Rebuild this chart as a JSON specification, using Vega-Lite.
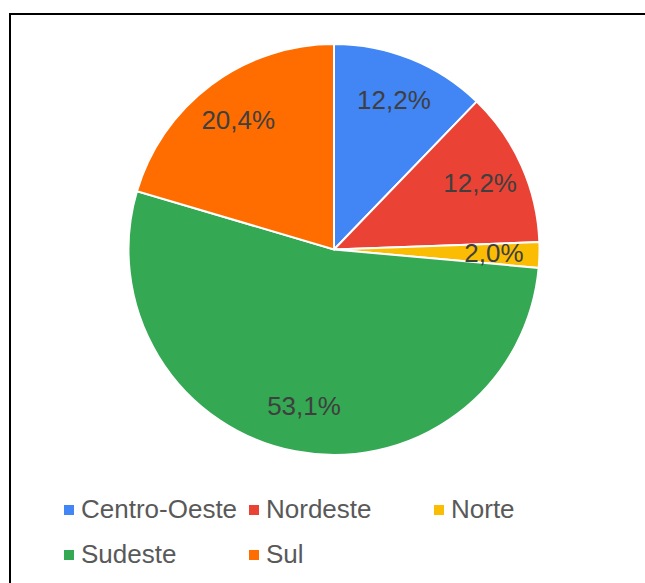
{
  "$schema": "https://vega.github.io/schema/vega-lite/v6.json",
  "autosize": "none",
  "padding": {"left": 10, "top": 14, "right": 0, "bottom": 0},
  "width": 640,
  "height": 575,
  "background": "white",
  "view": {"stroke": "#000000", "strokeWidth": 2},
  "config": {
    "view": {"stroke": "#000000", "strokeWidth": 2},
    "locale": {"number": {"decimal": ",", "thousands": ".", "grouping": [3], "currency": ["", ""]}},
    "font": "Liberation Sans"
  },
  "data": {
    "values": [
      {"region": "Centro-Oeste", "share": 0.122},
      {"region": "Nordeste", "share": 0.122},
      {"region": "Norte", "share": 0.020},
      {"region": "Sudeste", "share": 0.531},
      {"region": "Sul", "share": 0.204}
    ]
  },
  "layer": [
    {
      "mark": {"type": "point", "opacity": 0},
      "encoding": {
        "x": {"datum": 0, "type": "quantitative", "axis": null},
        "y": {"datum": 0, "type": "quantitative", "axis": null}
      }
    },
    {
      "mark": {"type": "arc", "x": 324, "y": 235.5, "outerRadius": 205.5, "stroke": "white", "strokeWidth": 2},
      "encoding": {
        "theta": {"field": "share", "type": "quantitative", "stack": true},
        "order": {"field": "region", "type": "nominal", "sort": "ascending"},
        "color": {
          "field": "region",
          "type": "nominal",
          "scale": {
            "domain": ["Centro-Oeste", "Nordeste", "Norte", "Sudeste", "Sul"],
            "range": ["#4285F4", "#EA4335", "#FBBC04", "#34A853", "#FF6D01"]
          },
          "legend": {
            "title": null,
            "orient": "none",
            "legendX": 46,
            "legendY": 483,
            "direction": "horizontal",
            "columns": 3,
            "gridAlign": "all",
            "symbolType": "square",
            "symbolSize": 100,
            "symbolStrokeWidth": 0,
            "labelFont": "Liberation Sans",
            "labelFontSize": 26,
            "labelColor": "#595959",
            "labelLimit": 400,
            "labelOffset": -1,
            "columnPadding": 3,
            "rowPadding": 19
          }
        }
      }
    },
    {
      "mark": {"type": "text", "x": 324, "y": 235.5, "radius": 160, "font": "Liberation Sans", "fontSize": 26, "fill": "#3f3f3f", "align": "center", "baseline": "middle"},
      "encoding": {
        "theta": {"field": "share", "type": "quantitative", "stack": true},
        "order": {"field": "region", "type": "nominal", "sort": "ascending"},
        "text": {"field": "share", "type": "quantitative", "format": ".1%"}
      }
    }
  ]
}
